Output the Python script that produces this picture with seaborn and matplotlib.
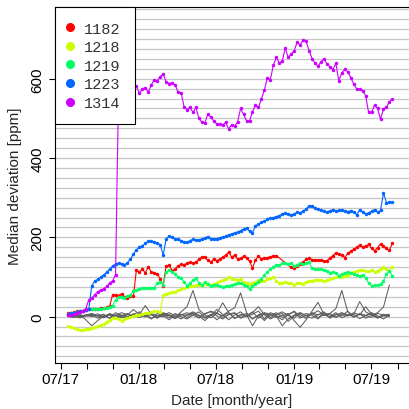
import numpy as np
import pandas as pd
import matplotlib
matplotlib.use("Agg")
import matplotlib.pyplot as plt
from matplotlib.lines import Line2D
import seaborn as sns

# ---------------- data ----------------
sensors = ["1182", "1218", "1219", "1223", "1314"]
colors = ["#FF0000", "#CCFF00", "#00FF66", "#0066FF", "#CC00FF"]
start_date = "2017-07-18"
n_weeks = 110
nan = np.nan

v1182 = [8, 10, 11, 13, 14, 15, 16, 18, 18, 19,
         20, 21, 22, 23, 26, 55, 55, 53, 58, 49,
         47, 52, 52, 118, 112, 120, 110, 126, 112, 111,
         108, 95, 78, 128, 130, 116, 120, 128, 132, 131,
         134, 137, 135, 138, 145, 150, 150, 142, 137, 146,
         141, 145, 150, 155, 163, 150, 155, 145, 147, 152,
         148, 140, 123, 143, 152, 146, 147, 149, 151, 153,
         154, nan, nan, nan, nan, 124, 122, 128, 133, 138,
         145, 147, 144, 143, 142, 143, 141, 141, 148, 154,
         161, 158, 155, 149, 160, 165, 170, 175, 180, 176,
         178, 182, 172, 166, 174, 183, 178, 172, 167, 186]

v1218 = [-24, -26, -29, -32, -35, -33, -31, -30, -28, -26,
         -24, -22, -18, -13, -9, -4, -3, -7, -11, -6,
         -3, -1, 1, 3, 4, 6, 8, 10, 12, 14,
         13, 12, 55, 58, 60, 62, 63, 66, 69, 72,
         74, 76, 77, 79, 80, 81, 82, 82, 80, 82,
         85, 89, 92, 95, 99, 96, 94, 93, 94, 88,
         84, 82, 86, 88, 92, 90, 91, 94, 97, 100,
         90, 86, 85, 87, 86, 84, 80, 84, 85, 83,
         88, 91, 91, 92, 93, 92, 90, 92, 95, 97,
         100, 102, 101, 102, 105, 109, 113, 116, 117, 118,
         116, 114, 117, 113, 116, 120, 124, 120, 116, 126]

v1219 = [6, 8, 10, 12, 14, 15, 17, 18, 18, 19,
         20, 20, 21, 22, 24, 28, 42, 49, 49, 48,
         51, 55, 64, 68, 70, 72, 71, 72, 71, 73,
         84, 88, 81, 112, 118, 113, 108, 100, 97, 88,
         78, 84, 92, 97, 85, 80, 87, 82, 78, 81,
         79, 77, 74, 76, 77, 80, 82, 86, 84, 80,
         76, 70, 76, 82, 88, 95, 104, 112, 120, 126,
         131, 130, 134, 135, 133, 134, 128, 131, 134, 133,
         134, 137, 122, 120, 119, 120, 118, 116, 111, 113,
         110, 103, 107, 111, 113, 109, 107, 104, 102, 105,
         97, 85, 78, 79, 80, 82, 90, 108, 115, 103]

v1223 = [6, 8, 9, 11, 13, 14, 16, 18, 78, 90,
         94, 100, 105, 112, 120, 128, 133, 135, 133, 131,
         136, 145, 158, 168, 175, 178, 185, 190, 190, 187,
         185, 181, 156, 196, 203, 200, 197, 195, 192, 189,
         187, 192, 195, 194, 193, 196, 199, 202, 197, 196,
         197, 199, 201, 203, 206, 209, 211, 213, 217, 221,
         223, 215, 211, 229, 233, 238, 240, 246, 249, 250,
         252, 255, 258, 262, 259, 257, 258, 264, 262, 266,
         271, 280, 279, 275, 271, 269, 266, 264, 267, 270,
         266, 268, 268, 266, 265, 267, 263, 257, 270, 263,
         259, 262, 266, 270, 263, 268, 312, 287, 288, 289]

v1314 = [3, 4, 6, 8, 12, 15, 20, 42, 47, 55,
         63, 67, 70, 76, 85, 90, 106, 566, 570, 572,
         567, 566, 575, 582, 563, 575, 577, 566, 585, 597,
         595, 605, 612, 592, 588, 590, 585, 566, 565, 530,
         522, 528, 515, 528, 500, 490, 488, 511, 503, 494,
         486, 485, 484, 490, 473, 484, 481, 491, 525, 510,
         494, 493, 517, 534, 528, 549, 572, 603, 598, 634,
         654, 640, 645, 677, 654, 662, 671, 692, 685, 698,
         695, 671, 651, 640, 631, 643, 650, 637, 630, 623,
         639, 595, 615, 624, 618, 603, 587, 574, 574, 570,
         557, 515, 515, 534, 525, 498, 524, 528, 542, 550]

# other sensors (grey), sampled every two weeks
n_grey = 55
grey_a = [3, 1, 2, 4, 0, 3, -2, 5, 2, -3, 6, 1, 4, -1, 8, 3, 0, 5, -2, 12,
          25, 66, 18, 4, -3, 8, 2, 10, -5, 6, 2, 12, -4, 7, 3, 10, -2, 5, 14, 0,
          8, 3, -6, 10, 4, -2, 9, 5, 0, 7, -4, 3, 10, 24, 80]
grey_b = [0, -2, 4, -8, -23, -10, 2, -4, 5, 0, -6, 3, -2, 10, -5, 2, 6, -3, 8, 0,
          -6, 4, 12, -2, 6, -8, 3, 14, 22, 60, 10, -6, 4, -10, 6, 2, -8, 5, 12, -4,
          3, 8, -2, 5, 0, 10, -3, 4, 6, -5, 2, 8, -2, 4, 6]
grey_c = [5, 3, 0, 2, 6, 1, -3, 8, 2, 10, 4, 18, 6, 28, 5, -2, 10, 4, -4, 6,
          3, 10, -4, 8, 12, 2, -6, 6, 10, -3, 5, -23, 2, 8, -2, 6, 12, 3, -4, 10,
          2, 6, 15, 4, 8, 20, 66, 12, 0, 6, 3, -2, 8, 4, 2]
grey_d = [1, 4, -2, 3, 5, -4, 2, 6, -3, 4, 0, 7, -2, 3, 6, -4, 8, 2, -5, 4,
          10, 3, -2, 6, 14, 8, 35, 10, -4, 2, 8, -6, 4, 10, 6, -2, 3, 8, -10, -27,
          -8, 14, 36, 6, -2, 4, 10, 2, 6, 38, 12, 4, -3, 6, 2]
grey_e = [4, 2, 5, 1, 3, 7, 0, 4, -5, 2, 8, -2, 5, 3, -6, 8, 2, -8, 4, 6,
          -2, 8, 2, -10, 4, 10, -2, 5, 8, -4, 2, 10, 25, 4, -6, 2, -23, -6, 4, 10,
          2, -4, 6, 3, 8, -2, 5, 2, 10, 4, 25, 6, -4, 2, 0]
grey_f = [2, 0, -3, 4, 8, 2, 6, -4, 10, 3, -2, 6, 12, 2, 5, -3, 4, 10, 2, -6,
          5, 12, 4, -4, 2, 18, 6, -8, 4, 12, 0, 6, 14, -6, 10, 4, 8, -12, 2, 6,
          -5, 10, 4, 12, -4, 6, 2, 14, -2, 8, 3, 10, 2, -6, 4]

tick_dates = ["2017-07-01", "2017-09-01", "2017-11-01", "2018-01-01", "2018-03-01",
              "2018-05-01", "2018-07-01", "2018-09-01", "2018-11-01", "2019-01-01",
              "2019-03-01", "2019-05-01", "2019-07-01", "2019-09-01"]
tick_labels = ["07/17", "", "", "01/18", "", "", "07/18", "", "", "01/19",
               "", "", "07/19", ""]
y_ticks = [0, 200, 400, 600]

# ---------------- frames ----------------
weeks = pd.date_range(start_date, periods=n_weeks, freq="7D")
series = {"1182": v1182, "1218": v1218, "1219": v1219, "1223": v1223, "1314": v1314}
cdf = pd.concat([pd.DataFrame({"date": weeks, "value": vals, "sensor": s})
                 for s, vals in series.items()], ignore_index=True).dropna()

gdates = pd.date_range(start_date, periods=n_grey, freq="14D")
greys = [grey_a, grey_b, grey_c, grey_d, grey_e, grey_f]
gdf = pd.concat([pd.DataFrame({"date": gdates, "value": g, "unit": i})
                 for i, g in enumerate(greys)], ignore_index=True)

# ---------------- plot ----------------
sns.set_style("white")
plt.rcParams["font.family"] = ["Liberation Sans", "DejaVu Sans"]

fig = plt.figure(figsize=(4.09, 4.10), dpi=100)
ax = fig.add_axes([55 / 409, 46 / 410, 354 / 409, 356 / 410])

ax.set_yticks(np.arange(-100, 776, 25), minor=True)
ax.grid(which="both", axis="y", color="#c6c6c6", lw=0.9, zorder=0)
ax.grid(which="both", axis="x", visible=False)
ax.set_axisbelow(True)

sns.lineplot(data=gdf, x="date", y="value", units="unit", estimator=None,
             color="#5e5e5e", lw=0.75, ax=ax, legend=False)
sns.lineplot(data=cdf, x="date", y="value", hue="sensor",
             palette=dict(zip(sensors, colors)), hue_order=sensors,
             estimator=None, marker="o", markersize=2.5, markeredgewidth=0,
             lw=0.8, ax=ax, legend=False)

t0 = pd.Timestamp("2017-07-01")
ax.set_xlim(t0 - pd.Timedelta(days=13.4), t0 + pd.Timedelta(days=819))
ax.set_ylim(-117, 781)

ax.set_xticks(pd.to_datetime(tick_dates))
ax.set_xticklabels(tick_labels)
ax.set_yticks(y_ticks)
ax.set_yticklabels([str(v) for v in y_ticks], rotation=90, va="center")

ax.tick_params(axis="both", which="major", direction="out", length=4.5, width=0.8,
               color="black", labelsize=11, labelcolor="black", bottom=True, left=True)
ax.tick_params(axis="x", pad=2)
ax.tick_params(axis="y", pad=3)
ax.tick_params(which="minor", length=0)

for side in ["left", "bottom", "top"]:
    ax.spines[side].set_visible(True)
    ax.spines[side].set_color("black")
    ax.spines[side].set_linewidth(0.8)
ax.spines["right"].set_visible(False)

ax.set_xlabel("Date [month/year]", fontsize=11, labelpad=5)
ax.set_ylabel("Median deviation [ppm]", fontsize=11, labelpad=6)

handles = [Line2D([], [], ls="none", marker="o", markersize=6.5, color=c,
                  markeredgewidth=0) for c in colors]
leg = ax.legend(handles, sensors, loc="upper left", bbox_to_anchor=(0, 1),
                borderaxespad=0, frameon=True, fancybox=False, edgecolor="black",
                framealpha=1, prop={"family": "Liberation Mono", "size": 11},
                handletextpad=0.95, borderpad=0.95, labelspacing=0.3,
                handlelength=0.0)
leg.get_frame().set_linewidth(0.8)
for t in leg.get_texts():
    t.set_color("#333333")

fig.savefig("out.png", dpi=100)
